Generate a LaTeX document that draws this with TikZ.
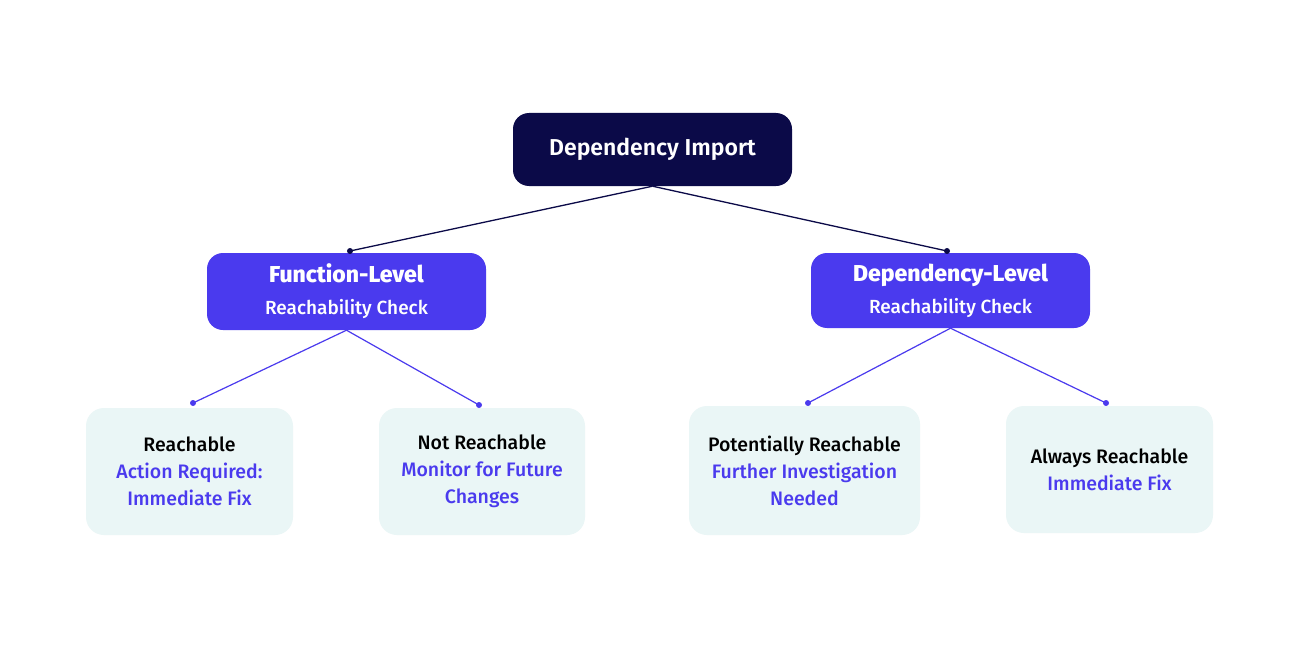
\documentclass[tikz,border=0pt]{standalone}
\usepackage{fontspec}
\setmainfont{Fira Sans}[BoldFont={Fira Sans SemiBold}]
\newfontfamily\medf{Fira Sans Medium}
\begin{document}
\begin{tikzpicture}[x=1pt,y=-1pt,
  root/.style={draw=none,fill=navy,rounded corners=16pt,text=white,font=\bfseries\fontsize{23}{28}\selectfont},
  mid/.style={draw=none,fill=vio,rounded corners=16pt,text=white,align=center,font=\medf\fontsize{19}{32}\selectfont},
  leaf/.style={draw=none,fill=leafc,rounded corners=18pt,align=center,font=\medf\fontsize{19.5}{27}\selectfont},
  dline/.style={navy,line width=1.3pt},
  pline/.style={vio,line width=1.2pt},
  dot/.style={circle,fill=#1,inner sep=0pt,minimum size=6pt}]
\definecolor{navy}{HTML}{0B0A48}
\definecolor{vio}{HTML}{4A3AEE}
\definecolor{leafc}{HTML}{EAF6F6}
\useasboundingbox[fill=white] (0,0) rectangle (1300,650);
\node[root,minimum width=279pt,minimum height=73pt] (root) at (652.5,149.5) {Dependency Import};
\node[mid,minimum width=279pt,minimum height=77pt] (fl) at (346.5,291.5)
  {{\bfseries\fontsize{23}{32}\selectfont Function-Level}\\Reachability Check};
\node[mid,minimum width=279pt,minimum height=75pt] (dl) at (950.5,290.5)
  {{\bfseries\fontsize{23}{32}\selectfont Dependency-Level}\\Reachability Check};
\node[leaf,minimum width=207pt,minimum height=127pt] (l1) at (189.5,471.5)
  {Reachable\\\textcolor{vio}{Action Required:}\\\textcolor{vio}{Immediate Fix}};
\node[leaf,minimum width=206pt,minimum height=127pt] (l2) at (482,471.5)
  {Not Reachable\\\textcolor{vio}{Monitor for Future}\\\textcolor{vio}{Changes}};
\node[leaf,minimum width=231pt,minimum height=129pt] (l3) at (804.5,470.5)
  {Potentially Reachable\\\textcolor{vio}{Further Investigation}\\\textcolor{vio}{Needed}};
\node[leaf,minimum width=207pt,minimum height=127pt] (l4) at (1109.5,469.5)
  {Always Reachable\\\textcolor{vio}{Immediate Fix}};
\coordinate (a1) at (350,251);
\coordinate (a2) at (947,251);
\coordinate (b1) at (193,403);
\coordinate (b2) at (479,405);
\coordinate (c1) at (808,403);
\coordinate (c2) at (1106,403);
\draw[dline] (root.south) -- (a1);
\draw[dline] (root.south) -- (a2);
\draw[pline] (fl.south) -- (b1);
\draw[pline] (fl.south) -- (b2);
\draw[pline] (dl.south) -- (c1);
\draw[pline] (dl.south) -- (c2);
\foreach \p in {a1,a2} \node[dot=navy] at (\p) {};
\foreach \p in {b1,b2,c1,c2} \node[dot=vio] at (\p) {};
\end{tikzpicture}
\end{document}
